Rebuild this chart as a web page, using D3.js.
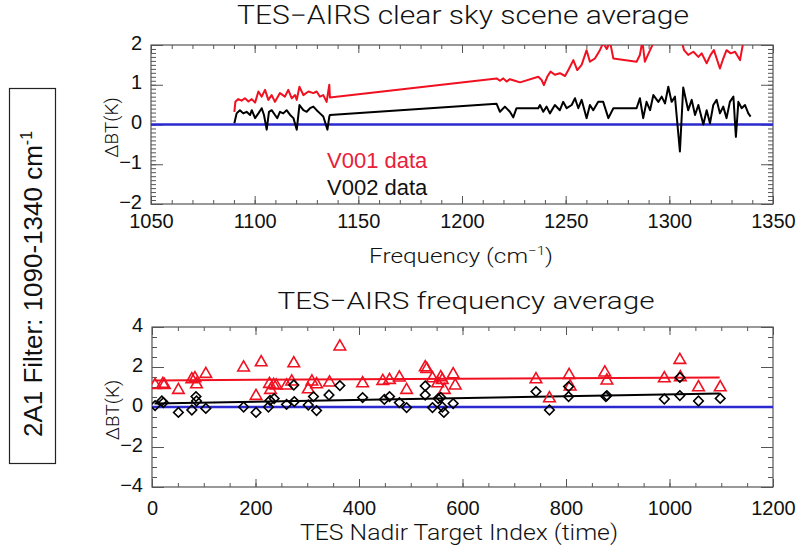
<!DOCTYPE html>
<html>
<head>
<meta charset="utf-8">
<script src="https://cdn.jsdelivr.net/npm/d3@7"></script>
<style>
  body { margin: 0; background: #fff; }
  svg { display: block; }
</style>
</head>
<body>
<svg id="chart" width="800" height="548"></svg>
<script>
// TES-AIRS clear sky scene average: [frequency (cm-1), dBT (K)]
var v001Spectrum = [
  [1090.2,0.32],[1090.7,0.57],[1092.1,0.64],[1093.7,0.60],[1095.3,0.66],[1097.0,0.58],
  [1098.6,0.64],[1100.2,0.55],[1101.8,0.83],[1103.4,0.70],[1105.0,0.87],[1106.6,0.62],
  [1108.2,0.74],[1109.8,0.57],[1112.2,0.79],[1114.6,0.70],[1116.2,0.87],[1117.9,0.66],
  [1119.5,0.74],[1120.3,0.62],[1121.6,0.95],[1123.5,0.74],[1125.9,0.83],[1128.3,0.79],
  [1129.9,0.83],[1131.5,0.70],[1133.1,0.74],[1134.7,0.57],[1136.0,1.00],[1136.3,0.68],
  [1216.7,1.16],[1218.3,1.10],[1219.9,1.16],[1221.5,1.08],[1223.1,1.14],[1225.5,1.10],
  [1228.0,1.06],[1236.8,1.20],[1238.4,1.12],[1239.5,0.99],[1241.1,1.20],[1242.7,1.33],
  [1244.8,1.25],[1247.2,1.29],[1249.7,1.22],[1251.3,1.37],[1253.7,1.62],[1255.6,1.37],
  [1257.7,1.50],[1260.1,1.87],[1261.7,1.58],[1264.1,1.66],[1266.5,1.87],[1268.1,2.05],
  [1269.8,1.90],[1271.4,2.08],[1273.0,1.66],[1284.2,1.58],[1285.8,1.75],[1287.0,2.10],
  [1288.2,1.58],[1290.7,1.87],[1292.3,2.05],[1294.7,2.30],[1298.7,2.40],[1302.7,2.30],
  [1305.9,2.10],[1307.1,1.87],[1309.1,1.75],[1311.6,1.83],[1314.0,1.70],[1315.6,1.79],
  [1318.0,1.54],[1319.9,1.75],[1321.5,1.87],[1324.4,1.41],[1326.0,1.66],[1327.6,1.87],
  [1329.6,1.79],[1331.7,1.83],[1334.1,1.62],[1335.4,2.00],[1336.5,2.30]
];
var v002Spectrum = [
  [1090.2,0.03],[1091.3,0.28],[1092.9,0.36],[1094.5,0.28],[1096.1,0.32],[1097.8,0.24],
  [1098.6,0.36],[1100.2,0.16],[1101.8,0.28],[1103.4,0.41],[1104.5,0.24],[1105.8,-0.13],
  [1106.9,0.32],[1108.2,0.36],[1109.8,0.24],[1110.9,0.16],[1112.2,0.32],[1113.8,0.28],
  [1115.4,0.36],[1117.1,0.24],[1118.7,0.16],[1120.3,-0.13],[1121.6,0.49],[1123.5,0.36],
  [1125.1,0.32],[1126.7,0.41],[1128.3,0.45],[1129.9,0.36],[1131.5,0.28],[1133.1,0.20],
  [1135.1,-0.13],[1136.0,0.20],[1136.3,0.24],
  [1216.7,0.52],[1218.3,0.32],[1220.7,0.45],[1223.1,0.32],[1224.7,0.18],[1226.3,0.41],
  [1236.8,0.41],[1237.6,0.49],[1239.2,0.32],[1240.8,0.45],[1242.4,0.28],[1244.8,0.49],
  [1247.2,0.36],[1248.8,0.57],[1250.5,0.41],[1252.9,0.49],[1254.5,0.66],[1256.1,0.41],
  [1257.7,0.62],[1260.1,0.16],[1261.7,0.49],[1263.3,0.36],[1265.7,0.57],[1268.1,0.57],
  [1270.6,0.16],[1273.0,0.41],[1284.2,0.41],[1285.8,0.66],[1287.4,0.16],[1289.0,0.57],
  [1290.7,0.36],[1292.3,0.74],[1294.7,0.57],[1296.3,0.70],[1297.9,0.53],[1299.5,0.95],
  [1301.1,0.57],[1302.7,0.70],[1305.1,-0.68],[1306.7,0.93],[1309.1,0.36],[1310.8,0.62],
  [1312.4,0.24],[1314.0,0.49],[1316.4,0.00],[1318.0,0.36],[1319.6,0.03],[1321.2,0.49],
  [1322.8,0.62],[1324.4,0.28],[1326.0,0.45],[1327.6,0.16],[1329.2,0.57],[1330.9,0.70],
  [1332.1,-0.31],[1333.3,0.57],[1334.9,0.41],[1336.5,0.49],[1338.1,0.28],[1339.2,0.20]
];
var freqTicks = [1050, 1100, 1150, 1200, 1250, 1300, 1350];
var spectrumTicks = [-2, -1, 0, 1, 2];

// TES-AIRS frequency average: [TES nadir target index, dBT (K)]
var v001Points = [
  [6,1.10],[21,1.15],[24,1.10],[51,0.85],[77,1.38],[83,1.43],[86,1.13],[104,1.65],
  [177,1.97],[201,0.55],[211,2.23],[227,1.15],[229,0.85],[235,1.10],[240,1.07],[260,1.07],
  [270,1.27],[274,2.18],[302,0.88],[309,1.27],[318,1.13],[343,1.22],[363,3.02],[407,1.18],
  [446,1.30],[459,1.35],[478,1.47],[492,0.85],[528,1.98],[531,1.90],[542,1.43],[552,1.18],
  [558,1.48],[561,1.35],[565,0.85],[582,1.63],[586,1.07],[742,1.38],[768,0.43],[806,1.60],
  [808,1.02],[875,1.72],[879,1.32],[990,1.43],[1020,2.35],[1021,1.48],[1056,0.98],[1098,0.98]
];
var v002Points = [
  [6,0.07],[19,0.30],[22,0.22],[51,-0.27],[77,-0.15],[85,0.52],[86,0.30],[104,-0.07],
  [177,0.00],[201,-0.27],[225,0.00],[228,0.33],[236,0.42],[260,0.13],[274,1.10],[275,0.27],
  [302,0.10],[312,0.52],[318,-0.18],[342,0.60],[363,1.07],[407,0.47],[449,0.38],[459,0.52],
  [478,0.22],[492,-0.03],[528,1.05],[528,0.60],[542,-0.03],[553,0.42],[558,0.48],[561,0.00],
  [564,-0.27],[582,0.17],[742,0.77],[768,-0.15],[805,1.02],[805,0.52],[877,0.52],[879,0.57],
  [990,0.40],[1020,1.48],[1020,0.57],[1056,0.30],[1098,0.43]
];
var v001Fit = [[5,1.33],[1097,1.48]];
var v002Fit = [[5,0.17],[1097,0.68]];
var indexTicks = [0, 200, 400, 600, 800, 1000, 1200];
var averageTicks = [-4, -2, 0, 2, 4];

var RED = "#f01020", BLUE = "#2a2ad0", FRAME = "#555";
var hershey = "Roboto, 'DejaVu Sans', sans-serif";
var helv = "'Liberation Sans', Arial, sans-serif";

var svg = d3.select("#chart");

// draws the box, inward ticks on all four sides and tick labels
function makePanel(box, xDomain, yDomain, xMinor, yMinor, xTicks, yTicks, xPad) {
  var x = d3.scaleLinear().domain(xDomain).range([box.left, box.right]);
  var y = d3.scaleLinear().domain(yDomain).range([box.bottom, box.top]);
  var g = svg.append("g");

  function ticks(axis, at, len, vals, pad) {
    var a = g.append("g").attr("transform", at)
      .call(axis.tickValues(vals).tickSize(-len).tickSizeOuter(0)
        .tickPadding(pad || 0)
        .tickFormat(pad ? d3.format("d") : ""));
    a.select(".domain").remove();
    a.selectAll("line").attr("stroke", FRAME).attr("stroke-width", 1);
    a.selectAll("text").attr("font-family", helv).attr("font-size", 20).attr("fill", "#111");
    return a;
  }
  var xMin = d3.range(xDomain[0], xDomain[1] + 1e-9, xMinor);
  var yMin = d3.range(yDomain[0], yDomain[1] + 1e-9, yMinor);
  // minor ticks
  ticks(d3.axisBottom(x), "translate(0," + box.bottom + ")", 4, xMin);
  ticks(d3.axisTop(x), "translate(0," + box.top + ")", 4, xMin);
  ticks(d3.axisLeft(y), "translate(" + box.left + ",0)", 5, yMin);
  ticks(d3.axisRight(y), "translate(" + box.right + ",0)", 5, yMin);
  // major ticks
  ticks(d3.axisBottom(x), "translate(0," + box.bottom + ")", 8, xTicks, xPad);
  ticks(d3.axisTop(x), "translate(0," + box.top + ")", 8, xTicks);
  var la = ticks(d3.axisLeft(y), "translate(" + box.left + ",0)", 12, yTicks, 9);
  la.selectAll("text").attr("dy", "0.2em");
  ticks(d3.axisRight(y), "translate(" + box.right + ",0)", 12, yTicks);

  g.append("rect")
    .attr("x", box.left).attr("y", box.top)
    .attr("width", box.right - box.left).attr("height", box.bottom - box.top)
    .attr("fill", "none").attr("stroke", FRAME).attr("stroke-width", 1.2);

  var clipId = "clip" + Math.round(box.top);
  svg.append("clipPath").attr("id", clipId).append("rect")
    .attr("x", box.left).attr("y", box.top)
    .attr("width", box.right - box.left).attr("height", box.bottom - box.top);
  var plot = svg.append("g").attr("clip-path", "url(#" + clipId + ")");

  // zero line
  plot.append("line")
    .attr("x1", box.left).attr("x2", box.right)
    .attr("y1", y(0)).attr("y2", y(0))
    .attr("stroke", BLUE).attr("stroke-width", 2.4);

  // y axis title
  svg.append("text")
    .attr("transform", "translate(" + (box.left - 33) + "," + ((box.top + box.bottom) / 2 + 3) + ") rotate(-90)")
    .attr("text-anchor", "middle")
    .attr("font-family", hershey).attr("font-size", 19).attr("font-weight", 300).attr("fill", "#111")
    .text("ΔBT(K)");

  return {x: x, y: y, plot: plot};
}

function title(txt, cx, base, size, len) {
  svg.append("text")
    .attr("x", cx).attr("y", base)
    .attr("text-anchor", "middle")
    .attr("font-family", hershey).attr("font-size", size).attr("font-weight", 300).attr("fill", "#111")
    .attr("textLength", len).attr("lengthAdjust", "spacingAndGlyphs")
    .text(txt);
}

// ---- top panel: spectrum
var topPanel = makePanel({left: 151, right: 773, top: 45, bottom: 204},
  [1050, 1350], [-2, 2], 10, 0.1, freqTicks, spectrumTicks, 10);
var line1 = d3.line()
  .x(function(d) { return topPanel.x(d[0]); })
  .y(function(d) { return topPanel.y(d[1]); });
topPanel.plot.append("path").datum(v001Spectrum).attr("d", line1)
  .attr("fill", "none").attr("stroke", RED).attr("stroke-width", 2).attr("stroke-linejoin", "round");
topPanel.plot.append("path").datum(v002Spectrum).attr("d", line1)
  .attr("fill", "none").attr("stroke", "#000").attr("stroke-width", 2).attr("stroke-linejoin", "round");

title("TES\u2212AIRS clear sky scene average", 463, 24, 25, 452);
var fl = svg.append("text").attr("x", 461).attr("y", 263).attr("text-anchor", "middle")
  .attr("font-family", hershey).attr("font-size", 21).attr("font-weight", 300).attr("fill", "#111")
  .attr("textLength", 184).attr("lengthAdjust", "spacingAndGlyphs");
fl.append("tspan").text("Frequency (cm");
fl.append("tspan").attr("dy", -8).attr("font-size", 13).text("\u22121");
fl.append("tspan").attr("dy", 8).text(")");

// legend
svg.append("text").attr("x", 327).attr("y", 168)
  .attr("font-family", helv).attr("font-size", 22).attr("fill", "#e8203a").text("V001 data");
svg.append("text").attr("x", 327).attr("y", 195)
  .attr("font-family", helv).attr("font-size", 22).attr("fill", "#111").text("V002 data");

// ---- bottom panel: frequency average per target
var botPanel = makePanel({left: 152, right: 773, top: 327, bottom: 487},
  [0, 1200], [-4, 4], 50, 0.5, indexTicks, averageTicks, 14);
var line2 = d3.line()
  .x(function(d) { return botPanel.x(d[0]); })
  .y(function(d) { return botPanel.y(d[1]); });
botPanel.plot.append("path").datum(v001Fit).attr("d", line2)
  .attr("fill", "none").attr("stroke", RED).attr("stroke-width", 2);
botPanel.plot.append("path").datum(v002Fit).attr("d", line2)
  .attr("fill", "none").attr("stroke", "#000").attr("stroke-width", 2);

var tri = d3.symbol().type(d3.symbolTriangle).size(58);
botPanel.plot.selectAll(".tri").data(v001Points).join("path")
  .attr("class", "tri").attr("d", tri)
  .attr("transform", function(d) { return "translate(" + botPanel.x(d[0]) + "," + botPanel.y(d[1]) + ")"; })
  .attr("fill", "none").attr("stroke", RED).attr("stroke-width", 1.6);
var dia = d3.symbol().type(d3.symbolSquare).size(46);
botPanel.plot.selectAll(".dia").data(v002Points).join("path")
  .attr("class", "dia").attr("d", dia)
  .attr("transform", function(d) { return "translate(" + botPanel.x(d[0]) + "," + botPanel.y(d[1]) + ") rotate(45)"; })
  .attr("fill", "none").attr("stroke", "#000").attr("stroke-width", 1.6);

title("TES\u2212AIRS frequency average", 466, 309, 24, 377);
title("TES Nadir Target Index (time)", 459, 540, 22, 318);

// ---- filter box on the left
svg.append("rect").attr("x", 9.5).attr("y", 88.5).attr("width", 46).attr("height", 375)
  .attr("fill", "none").attr("stroke", "#222").attr("stroke-width", 1.2);
var ft = svg.append("text")
  .attr("transform", "translate(42,284) rotate(-90)")
  .attr("text-anchor", "middle")
  .attr("font-family", helv).attr("font-size", 26).attr("fill", "#111");
ft.append("tspan").text("2A1 Filter: 1090-1340 cm");
ft.append("tspan").attr("dy", -10).attr("font-size", 16).text("-1");
</script>
</body>
</html>
